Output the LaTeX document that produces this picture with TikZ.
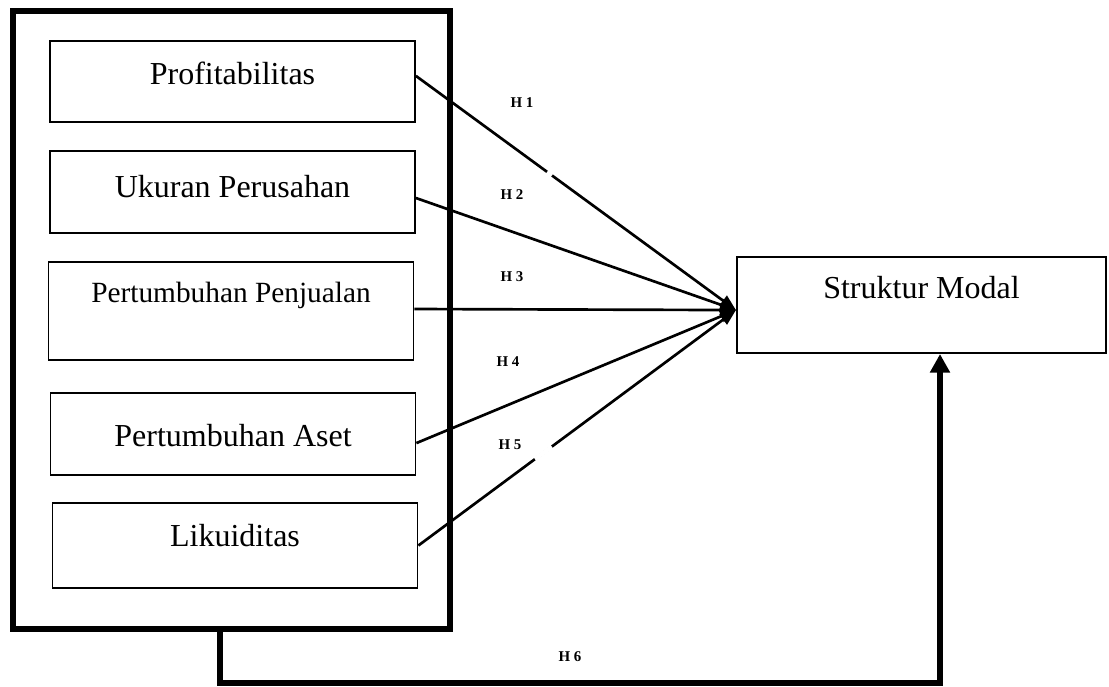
\documentclass[tikz,border=0pt]{standalone}
\usepackage{fontspec}
\setmainfont{Liberation Serif}
\usepackage{tikz}
\usetikzlibrary{arrows.meta,calc}

\begin{document}
\begin{tikzpicture}[x=0.375pt,y=-0.375pt,
    varbox/.style={draw,line width=0.55pt,inner sep=0pt,align=center,
                   minimum width=137pt,font=\fontsize{12}{14}\selectfont},
    groupbox/.style={draw,line width=2.25pt,inner sep=0pt},
    hyp/.style={line width=1pt,-{Triangle[length=6pt,width=4.6pt]}},
    hlabel/.style={font=\fontsize{5.6}{6}\selectfont\bfseries},
    gap/.style={white,line width=1.6pt}]
  \useasboundingbox (0,0) rectangle (1109,686);

  % variabel independen
  \node[groupbox,minimum width=163.9pt,minimum height=231.6pt] (grp) at (231.5,320.25) {};
  \node[varbox,text height=16.5pt,text depth=13.9pt] (prof) at (232.5,81.5) {Profitabilitas};
  \node[varbox,text height=17.25pt,text depth=13.5pt] (ukur) at (232.5,192) {Ukuran Perusahan};
  \node[varbox,text height=15pt,text depth=21.75pt,font=\fontsize{11}{13}\selectfont] (penj) at (231,311) {Pertumbuhan Penjualan};
  \node[varbox,text height=19.9pt,text depth=10.9pt] (aset) at (233,434) {Pertumbuhan Aset};
  \node[varbox,text height=16.5pt,text depth=15.4pt] (likd) at (235,545.5) {Likuiditas};

  % variabel dependen
  \node[varbox,line width=0.75pt,minimum width=138.4pt,text height=15.4pt,text depth=20.6pt] (modal) at (921.5,305) {Struktur Modal};

  \coordinate (s1) at ([yshift=2.1pt]prof.east);
  \coordinate (s2) at ([yshift=-2.25pt]ukur.east);
  \coordinate (s3) at ([yshift=0.75pt]penj.east);
  \coordinate (s4) at ([yshift=-3.4pt]aset.east);
  \coordinate (s5) at (likd.east);
  \coordinate (tip) at ([yshift=-1.9pt]modal.west);

  \draw[hyp] (s1) -- (tip);
  \draw[hyp] (s2) -- (tip);
  \draw[hyp] (s3) -- (tip);
  \draw[hyp] (s4) -- (tip);
  \draw[hyp] (s5) -- (tip);
  \draw[gap] ($(s1)!.41!(tip)$) -- ($(s1)!.425!(tip)$);
  \draw[gap] ($(s5)!.367!(tip)$) -- ($(s5)!.42!(tip)$);

  \node[hlabel] (h1) at (522,103) {H 1};
  \node[hlabel] (h2) at (512,195) {H 2};
  \node[hlabel] (h3) at (512,277) {H 3};
  \node[hlabel] (h4) at (508,362) {H 4};
  \node[hlabel] (h5) at (510,445) {H 5};

  % H6 simultan
  \coordinate (c1) at (220,683);
  \coordinate (c2) at (940,683);
  \draw[line width=2.3pt,-{Triangle[length=7pt,width=7.2pt]}]
    (grp.south -| c1) -- (c1) -- (c2) -- (modal.south -| c2);
  \node[hlabel] (h6) at (570,657) {H 6};
\end{tikzpicture}
\end{document}
